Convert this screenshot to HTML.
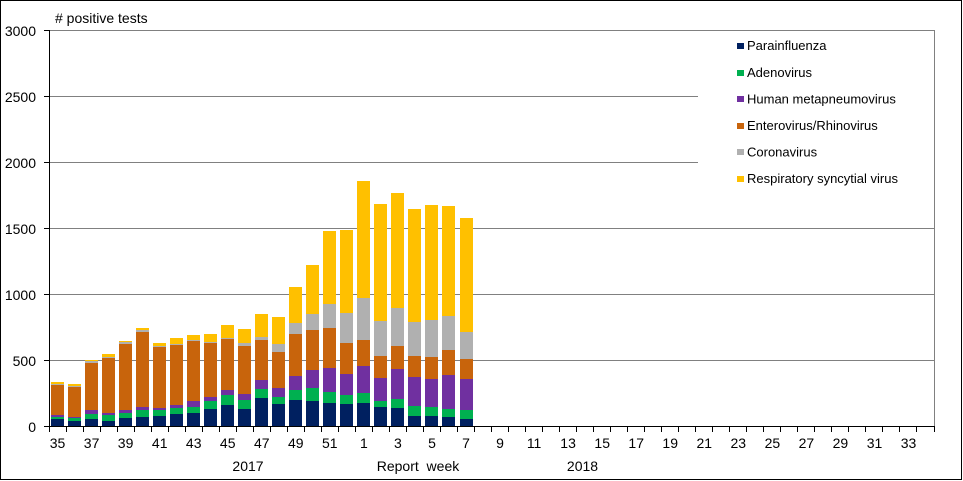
<!DOCTYPE html>
<html><head><meta charset="utf-8"><style>
html,body{margin:0;padding:0;background:#fff;}
svg{display:block;font-family:"Liberation Sans",Arial,sans-serif;}
</style></head><body>
<svg width="963" height="481" viewBox="0 0 963 481" xmlns="http://www.w3.org/2000/svg">
<rect x="0" y="0" width="963" height="481" fill="#fff"/>
<rect x="0.5" y="0.5" width="961" height="479" fill="none" stroke="#000" stroke-width="1"/>
<!-- gridlines -->
<g stroke="#808080" stroke-width="1" shape-rendering="crispEdges">
<line x1="49" y1="30.5" x2="935" y2="30.5"/>
<line x1="49" y1="96.5" x2="935" y2="96.5"/>
<line x1="49" y1="162.5" x2="935" y2="162.5"/>
<line x1="49" y1="228.5" x2="935" y2="228.5"/>
<line x1="49" y1="294.5" x2="935" y2="294.5"/>
<line x1="49" y1="360.5" x2="935" y2="360.5"/>
<line x1="934.5" y1="30" x2="934.5" y2="427"/>
</g>
<!-- legend background -->
<rect x="698" y="32" width="236" height="170" fill="#fff"/>
<!-- bars -->
<g shape-rendering="crispEdges">
<g transform="translate(51,0)"><rect y="419" height="7" width="13" fill="#002060"/><rect y="417" height="2" width="13" fill="#00b050"/><rect y="415" height="2" width="13" fill="#7030a0"/><rect y="385" height="30" width="13" fill="#c8640c"/><rect y="384" height="1" width="13" fill="#b0b0b0"/><rect y="382" height="2" width="13" fill="#ffc000"/></g>
<g transform="translate(68,0)"><rect y="421" height="5" width="13" fill="#002060"/><rect y="418" height="3" width="13" fill="#00b050"/><rect y="417" height="1" width="13" fill="#7030a0"/><rect y="387" height="30" width="13" fill="#c8640c"/><rect y="386" height="1" width="13" fill="#b0b0b0"/><rect y="384" height="2" width="13" fill="#ffc000"/></g>
<g transform="translate(85,0)"><rect y="419" height="7" width="13" fill="#002060"/><rect y="414" height="5" width="13" fill="#00b050"/><rect y="410" height="4" width="13" fill="#7030a0"/><rect y="363" height="47" width="13" fill="#c8640c"/><rect y="361" height="2" width="13" fill="#b0b0b0"/><rect y="360" height="1" width="13" fill="#ffc000"/></g>
<g transform="translate(102,0)"><rect y="421" height="5" width="13" fill="#002060"/><rect y="415" height="6" width="13" fill="#00b050"/><rect y="413" height="2" width="13" fill="#7030a0"/><rect y="358" height="55" width="13" fill="#c8640c"/><rect y="357" height="1" width="13" fill="#b0b0b0"/><rect y="354" height="3" width="13" fill="#ffc000"/></g>
<g transform="translate(119,0)"><rect y="418" height="8" width="13" fill="#002060"/><rect y="413" height="5" width="13" fill="#00b050"/><rect y="410" height="3" width="13" fill="#7030a0"/><rect y="344" height="66" width="13" fill="#c8640c"/><rect y="342" height="2" width="13" fill="#b0b0b0"/><rect y="341" height="1" width="13" fill="#ffc000"/></g>
<g transform="translate(136,0)"><rect y="417" height="9" width="13" fill="#002060"/><rect y="410" height="7" width="13" fill="#00b050"/><rect y="407" height="3" width="13" fill="#7030a0"/><rect y="332" height="75" width="13" fill="#c8640c"/><rect y="330" height="2" width="13" fill="#b0b0b0"/><rect y="328" height="2" width="13" fill="#ffc000"/></g>
<g transform="translate(153,0)"><rect y="416" height="10" width="13" fill="#002060"/><rect y="410" height="6" width="13" fill="#00b050"/><rect y="408" height="2" width="13" fill="#7030a0"/><rect y="347" height="61" width="13" fill="#c8640c"/><rect y="346" height="1" width="13" fill="#b0b0b0"/><rect y="343" height="3" width="13" fill="#ffc000"/></g>
<g transform="translate(170,0)"><rect y="414" height="12" width="13" fill="#002060"/><rect y="408" height="6" width="13" fill="#00b050"/><rect y="405" height="3" width="13" fill="#7030a0"/><rect y="345" height="60" width="13" fill="#c8640c"/><rect y="344" height="1" width="13" fill="#b0b0b0"/><rect y="338" height="6" width="13" fill="#ffc000"/></g>
<g transform="translate(187,0)"><rect y="413" height="13" width="13" fill="#002060"/><rect y="407" height="6" width="13" fill="#00b050"/><rect y="401" height="6" width="13" fill="#7030a0"/><rect y="341" height="60" width="13" fill="#c8640c"/><rect y="340" height="1" width="13" fill="#b0b0b0"/><rect y="335" height="5" width="13" fill="#ffc000"/></g>
<g transform="translate(204,0)"><rect y="409" height="17" width="13" fill="#002060"/><rect y="401" height="8" width="13" fill="#00b050"/><rect y="397" height="4" width="13" fill="#7030a0"/><rect y="343" height="54" width="13" fill="#c8640c"/><rect y="342" height="1" width="13" fill="#b0b0b0"/><rect y="334" height="8" width="13" fill="#ffc000"/></g>
<g transform="translate(221,0)"><rect y="405" height="21" width="13" fill="#002060"/><rect y="395" height="10" width="13" fill="#00b050"/><rect y="390" height="5" width="13" fill="#7030a0"/><rect y="339" height="51" width="13" fill="#c8640c"/><rect y="338" height="1" width="13" fill="#b0b0b0"/><rect y="325" height="13" width="13" fill="#ffc000"/></g>
<g transform="translate(238,0)"><rect y="409" height="17" width="13" fill="#002060"/><rect y="400" height="9" width="13" fill="#00b050"/><rect y="394" height="6" width="13" fill="#7030a0"/><rect y="346" height="48" width="13" fill="#c8640c"/><rect y="343" height="3" width="13" fill="#b0b0b0"/><rect y="329" height="14" width="13" fill="#ffc000"/></g>
<g transform="translate(255,0)"><rect y="398" height="28" width="13" fill="#002060"/><rect y="389" height="9" width="13" fill="#00b050"/><rect y="380" height="9" width="13" fill="#7030a0"/><rect y="340" height="40" width="13" fill="#c8640c"/><rect y="337" height="3" width="13" fill="#b0b0b0"/><rect y="314" height="23" width="13" fill="#ffc000"/></g>
<g transform="translate(272,0)"><rect y="404" height="22" width="13" fill="#002060"/><rect y="397" height="7" width="13" fill="#00b050"/><rect y="388" height="9" width="13" fill="#7030a0"/><rect y="352" height="36" width="13" fill="#c8640c"/><rect y="344" height="8" width="13" fill="#b0b0b0"/><rect y="317" height="27" width="13" fill="#ffc000"/></g>
<g transform="translate(289,0)"><rect y="400" height="26" width="13" fill="#002060"/><rect y="390" height="10" width="13" fill="#00b050"/><rect y="376" height="14" width="13" fill="#7030a0"/><rect y="334" height="42" width="13" fill="#c8640c"/><rect y="323" height="11" width="13" fill="#b0b0b0"/><rect y="287" height="36" width="13" fill="#ffc000"/></g>
<g transform="translate(306,0)"><rect y="401" height="25" width="13" fill="#002060"/><rect y="388" height="13" width="13" fill="#00b050"/><rect y="370" height="18" width="13" fill="#7030a0"/><rect y="330" height="40" width="13" fill="#c8640c"/><rect y="314" height="16" width="13" fill="#b0b0b0"/><rect y="265" height="49" width="13" fill="#ffc000"/></g>
<g transform="translate(323,0)"><rect y="403" height="23" width="13" fill="#002060"/><rect y="392" height="11" width="13" fill="#00b050"/><rect y="368" height="24" width="13" fill="#7030a0"/><rect y="328" height="40" width="13" fill="#c8640c"/><rect y="304" height="24" width="13" fill="#b0b0b0"/><rect y="231" height="73" width="13" fill="#ffc000"/></g>
<g transform="translate(340,0)"><rect y="404" height="22" width="13" fill="#002060"/><rect y="395" height="9" width="13" fill="#00b050"/><rect y="374" height="21" width="13" fill="#7030a0"/><rect y="343" height="31" width="13" fill="#c8640c"/><rect y="313" height="30" width="13" fill="#b0b0b0"/><rect y="230" height="83" width="13" fill="#ffc000"/></g>
<g transform="translate(357,0)"><rect y="403" height="23" width="13" fill="#002060"/><rect y="393" height="10" width="13" fill="#00b050"/><rect y="366" height="27" width="13" fill="#7030a0"/><rect y="340" height="26" width="13" fill="#c8640c"/><rect y="298" height="42" width="13" fill="#b0b0b0"/><rect y="181" height="117" width="13" fill="#ffc000"/></g>
<g transform="translate(374,0)"><rect y="407" height="19" width="13" fill="#002060"/><rect y="401" height="6" width="13" fill="#00b050"/><rect y="378" height="23" width="13" fill="#7030a0"/><rect y="356" height="22" width="13" fill="#c8640c"/><rect y="321" height="35" width="13" fill="#b0b0b0"/><rect y="204" height="117" width="13" fill="#ffc000"/></g>
<g transform="translate(391,0)"><rect y="408" height="18" width="13" fill="#002060"/><rect y="399" height="9" width="13" fill="#00b050"/><rect y="369" height="30" width="13" fill="#7030a0"/><rect y="346" height="23" width="13" fill="#c8640c"/><rect y="308" height="38" width="13" fill="#b0b0b0"/><rect y="193" height="115" width="13" fill="#ffc000"/></g>
<g transform="translate(408,0)"><rect y="416" height="10" width="13" fill="#002060"/><rect y="406" height="10" width="13" fill="#00b050"/><rect y="377" height="29" width="13" fill="#7030a0"/><rect y="356" height="21" width="13" fill="#c8640c"/><rect y="322" height="34" width="13" fill="#b0b0b0"/><rect y="209" height="113" width="13" fill="#ffc000"/></g>
<g transform="translate(425,0)"><rect y="416" height="10" width="13" fill="#002060"/><rect y="407" height="9" width="13" fill="#00b050"/><rect y="379" height="28" width="13" fill="#7030a0"/><rect y="357" height="22" width="13" fill="#c8640c"/><rect y="320" height="37" width="13" fill="#b0b0b0"/><rect y="205" height="115" width="13" fill="#ffc000"/></g>
<g transform="translate(442,0)"><rect y="417" height="9" width="13" fill="#002060"/><rect y="409" height="8" width="13" fill="#00b050"/><rect y="375" height="34" width="13" fill="#7030a0"/><rect y="350" height="25" width="13" fill="#c8640c"/><rect y="316" height="34" width="13" fill="#b0b0b0"/><rect y="206" height="110" width="13" fill="#ffc000"/></g>
<g transform="translate(460,0)"><rect y="419" height="7" width="13" fill="#002060"/><rect y="410" height="9" width="13" fill="#00b050"/><rect y="379" height="31" width="13" fill="#7030a0"/><rect y="359" height="20" width="13" fill="#c8640c"/><rect y="332" height="27" width="13" fill="#b0b0b0"/><rect y="218" height="114" width="13" fill="#ffc000"/></g>
</g>
<!-- axes -->
<g stroke="#000" stroke-width="1" shape-rendering="crispEdges">
<line x1="49.5" y1="30" x2="49.5" y2="427"/>
<line x1="49" y1="426.5" x2="935" y2="426.5"/>
<line x1="44" y1="30.5" x2="49" y2="30.5"/>
<line x1="44" y1="96.5" x2="49" y2="96.5"/>
<line x1="44" y1="162.5" x2="49" y2="162.5"/>
<line x1="44" y1="228.5" x2="49" y2="228.5"/>
<line x1="44" y1="294.5" x2="49" y2="294.5"/>
<line x1="44" y1="360.5" x2="49" y2="360.5"/>
<line x1="44" y1="426.5" x2="49" y2="426.5"/>
</g>
<path stroke="#000" stroke-width="1" shape-rendering="crispEdges" d="M49.5 426V432M66.5 426V432M83.5 426V432M100.5 426V432M117.5 426V432M134.5 426V432M151.5 426V432M168.5 426V432M185.5 426V432M202.5 426V432M219.5 426V432M236.5 426V432M253.5 426V432M270.5 426V432M287.5 426V432M304.5 426V432M321.5 426V432M338.5 426V432M355.5 426V432M372.5 426V432M389.5 426V432M406.5 426V432M423.5 426V432M440.5 426V432M457.5 426V432M474.5 426V432M491.5 426V432M508.5 426V432M525.5 426V432M542.5 426V432M559.5 426V432M576.5 426V432M593.5 426V432M610.5 426V432M627.5 426V432M644.5 426V432M661.5 426V432M678.5 426V432M695.5 426V432M712.5 426V432M729.5 426V432M746.5 426V432M763.5 426V432M780.5 426V432M797.5 426V432M814.5 426V432M831.5 426V432M848.5 426V432M865.5 426V432M882.5 426V432M899.5 426V432M916.5 426V432M934.5 426V432"/>
<!-- y labels -->
<g font-size="14" fill="#000" text-anchor="end">
<text x="36" y="36">3000</text>
<text x="36" y="102">2500</text>
<text x="36" y="168">2000</text>
<text x="36" y="234">1500</text>
<text x="36" y="300">1000</text>
<text x="36" y="366">500</text>
<text x="36" y="432">0</text>
</g>
<text x="55" y="23" font-size="14" fill="#000">#  positive tests</text>
<!-- x labels -->
<g font-size="14" fill="#000" text-anchor="middle">
<text x="57.5" y="448">35</text>
<text x="91.6" y="448">37</text>
<text x="125.6" y="448">39</text>
<text x="159.7" y="448">41</text>
<text x="193.7" y="448">43</text>
<text x="227.7" y="448">45</text>
<text x="261.8" y="448">47</text>
<text x="295.8" y="448">49</text>
<text x="329.8" y="448">51</text>
<text x="363.9" y="448">1</text>
<text x="397.9" y="448">3</text>
<text x="432" y="448">5</text>
<text x="466" y="448">7</text>
<text x="500" y="448">9</text>
<text x="534.1" y="448">11</text>
<text x="568.1" y="448">13</text>
<text x="602.2" y="448">15</text>
<text x="636.2" y="448">17</text>
<text x="670.2" y="448">19</text>
<text x="704.3" y="448">21</text>
<text x="738.3" y="448">23</text>
<text x="772.4" y="448">25</text>
<text x="806.4" y="448">27</text>
<text x="840.4" y="448">29</text>
<text x="874.5" y="448">31</text>
<text x="908.5" y="448">33</text>
<text x="248" y="471">2017</text>
<text x="418" y="471" xml:space="preserve">Report  week</text>
<text x="582.5" y="471">2018</text>
</g>
<!-- legend -->
<g font-size="13" fill="#000" shape-rendering="crispEdges">
<rect x="737" y="43" width="7" height="6" fill="#002060"/><text x="747" y="50">Parainfluenza</text>
<rect x="737" y="70" width="7" height="6" fill="#00b050"/><text x="747" y="77">Adenovirus</text>
<rect x="737" y="96" width="7" height="6" fill="#7030a0"/><text x="747" y="103.5">Human metapneumovirus</text>
<rect x="737" y="123" width="7" height="6" fill="#c8640c"/><text x="747" y="130">Enterovirus/Rhinovirus</text>
<rect x="737" y="149" width="7" height="6" fill="#b0b0b0"/><text x="747" y="156.5">Coronavirus</text>
<rect x="737" y="176" width="7" height="6" fill="#ffc000"/><text x="747" y="183">Respiratory syncytial virus</text>
</g>
</svg>
</body></html>
